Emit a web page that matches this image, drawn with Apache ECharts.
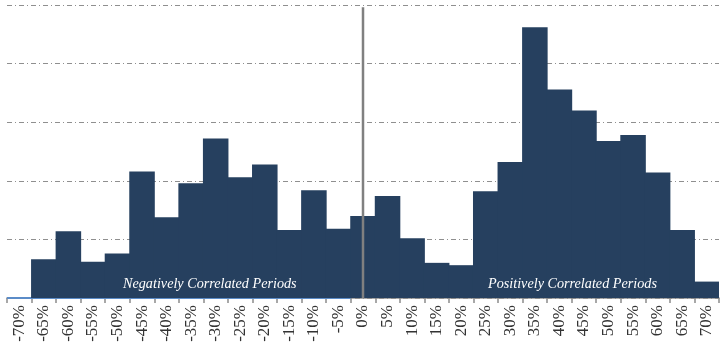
<!DOCTYPE html>
<html>
<head>
<meta charset="utf-8">
<script src="https://cdn.jsdelivr.net/npm/echarts@6/dist/echarts.min.js"></script>
<style>
	html, body { margin: 0; padding: 0; background: #fff; }
	#chart { width: 725px; height: 353px; }
</style>
</head>
<body>
<div id="chart"></div>
<script>
// buckets of correlation, 5% wide
var categories = ['-70%', '-65%', '-60%', '-55%', '-50%', '-45%', '-40%', '-35%', '-30%', '-25%',
	'-20%', '-15%', '-10%', '-5%', '0%', '5%', '10%', '15%', '20%', '25%', '30%', '35%', '40%',
	'45%', '50%', '55%', '60%', '65%', '70%'];
var counts = [0, 3.3, 5.7, 3.1, 3.8, 10.8, 6.9, 9.8, 13.6, 10.3, 11.4, 5.8, 9.2, 5.9,
	7.0, 8.7, 5.1, 3.0, 2.8, 9.1, 11.6, 23.1, 17.8, 16.0, 13.4, 13.9, 10.7, 5.8, 1.4];
// helper lines on a hidden value axis (-72.5 .. 72.5)
var negBaseline = [[-72.5, 0], [-2.5, 0]];
var zeroLine = [[0, 0], [0, 24.8]];

var dom = document.getElementById('chart');
var myChart = echarts.init(dom);

var option = {
	animation: false,
	grid: { left: 7, right: 6, top: 5, bottom: 55, containLabel: false },
	xAxis: [
		{
			type: 'category',
			data: categories,
			boundaryGap: true,
			axisLine: { lineStyle: { color: '#8c8c8c', width: 1.5 } },
			axisTick: { show: true, length: 5, lineStyle: { color: '#8c8c8c', width: 1.5 } },
			axisLabel: {
				rotate: 90,
				interval: 0,
				margin: 7,
				color: '#333333',
				fontFamily: 'Liberation Serif',
				fontSize: 17
			},
			splitLine: { show: false }
		},
		{
			type: 'value',
			min: -72.5,
			max: 72.5,
			show: false
		}
	],
	yAxis: {
		type: 'value',
		min: 0,
		max: 25,
		interval: 5,
		axisLine: { show: false },
		axisTick: { show: false },
		axisLabel: { show: false },
		splitLine: {
			show: true,
			lineStyle: { color: '#8f8f8f', width: 1, type: [5, 3, 1, 3] }
		}
	},
	series: [
		{
			type: 'bar',
			data: counts,
			barWidth: '104%',
			itemStyle: { color: '#26405f' },
			z: 2
		},
		{
			type: 'line',
			xAxisIndex: 1,
			data: negBaseline,
			symbol: 'none',
			lineStyle: { color: '#5b8cc8', width: 2 },
			z: 1
		},
		{
			type: 'line',
			xAxisIndex: 1,
			data: zeroLine,
			symbol: 'none',
			lineStyle: { color: '#808080', width: 2.5 },
			z: 3
		}
	],
	graphic: [
		{
			type: 'text',
			left: 123,
			top: 277,
			style: {
				text: 'Negatively Correlated Periods',
				fill: '#ffffff',
				font: 'italic 14.2px "Liberation Serif"'
			},
			z: 10
		},
		{
			type: 'text',
			left: 488,
			top: 277,
			style: {
				text: 'Positively Correlated Periods',
				fill: '#ffffff',
				font: 'italic 14.2px "Liberation Serif"'
			},
			z: 10
		}
	]
};
myChart.setOption(option);
window.addEventListener('resize', myChart.resize);
</script>
</body>
</html>
